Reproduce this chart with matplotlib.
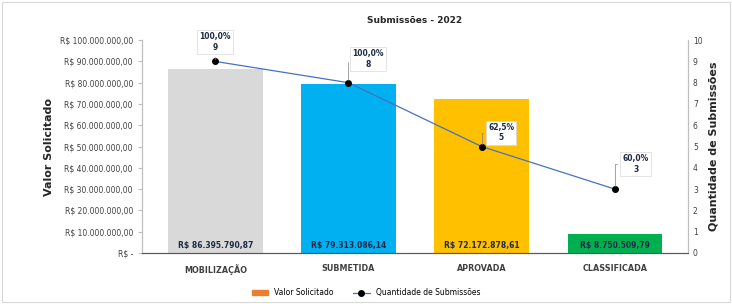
import numpy as np
import matplotlib.pyplot as plt
from matplotlib.lines import Line2D
from matplotlib.patches import Patch

# dados
etapas = ['MOBILIZAÇÃO', 'SUBMETIDA', 'APROVADA', 'CLASSIFICADA']
valor_solicitado = [86395790.87, 79313086.14, 72172878.61, 8750509.79]
valor_rotulos = ['R$ 86.395.790,87', 'R$ 79.313.086,14', 'R$ 72.172.878,61', 'R$ 8.750.509,79']
qtd_submissoes = [9, 8, 5, 3]
pct_rotulos = ['100,0%', '100,0%', '62,5%', '60,0%']
cores = ['#D9D9D9', '#00B0F0', '#FFC000', '#00B050']

yticks_valor = np.arange(0, 100000001, 10000000)

def fmt_real(v):
    if v == 0:
        return 'R$ -'
    s = '{:,.2f}'.format(v).replace(',', 'X').replace('.', ',').replace('X', '.')
    return 'R$ ' + s

fig = plt.figure(figsize=(7.32, 3.04), dpi=100)
ax = fig.add_axes([0.194, 0.168, 0.746, 0.70])
ax2 = ax.twinx()

x = np.arange(len(etapas))
ax.bar(x, valor_solicitado, width=0.71, color=cores, zorder=2)
for xi, lbl in zip(x, valor_rotulos):
    ax.text(xi, 1200000, lbl, ha='center', va='bottom', fontsize=5.5,
            fontweight='bold', color='#1F2A44', zorder=3)

ax.set_ylim(0, 100000000)
ax.set_yticks(yticks_valor)
ax.set_yticklabels([fmt_real(v) for v in yticks_valor], fontsize=5.5, color='#404040')
ax.set_xlim(-0.55, 3.55)
ax.set_xticks(x)
ax.set_xticklabels(etapas, fontsize=5.8, fontweight='bold', color='#404040')
ax.tick_params(axis='x', length=0, pad=8)
ax.tick_params(axis='y', length=3, color='#BFBFBF')
ax.set_ylabel('Valor Solicitado', fontsize=8, fontweight='bold', color='#262626')

ax2.plot(x, qtd_submissoes, color='#4472C4', lw=0.9, marker='o', ms=4,
         mfc='black', mec='black', zorder=4)
ax2.set_ylim(0, 10)
ax2.set_yticks(range(0, 11))
ax2.tick_params(axis='y', labelsize=5.5, labelcolor='#404040', length=0)
ax2.set_ylabel('Quantidade de Submissões', fontsize=8, fontweight='bold', color='#262626')

offsets = [(0, 14), (14, 17), (14, 10), (15, 18)]
for xi, q, p, off in zip(x, qtd_submissoes, pct_rotulos, offsets):
    ax2.annotate('{}\n{}'.format(p, q), (xi, q), xytext=off, textcoords='offset points',
                 ha='center', va='center', fontsize=5.5, fontweight='bold', color='#1F2A44',
                 bbox=dict(boxstyle='square,pad=0.3', fc='white', ec='#D9D9D9', lw=0.5),
                 arrowprops=dict(arrowstyle='-', color='#7F7F7F', lw=0.5,
                                 connectionstyle='angle,angleA=0,angleB=90'),
                 zorder=5)

for a in (ax, ax2):
    a.spines['top'].set_visible(False)
    a.spines['left'].set_color('#BFBFBF')
    a.spines['right'].set_color('#BFBFBF')
    a.spines['bottom'].set_color('#595959')

ax.set_title('Submissões - 2022', fontsize=6.5, fontweight='bold', color='#262626', pad=12)

handles = [Patch(color='#ED7D31', label='Valor Solicitado'),
           Line2D([], [], color='#4472C4', marker='o', mfc='black', mec='black', ms=4,
                  lw=0.9, label='Quantidade de Submissões')]
fig.legend(handles=handles, loc='lower center', bbox_to_anchor=(0.5, 0.0), ncol=2,
           frameon=False, fontsize=5.5, handlelength=2.2, handleheight=0.5,
           columnspacing=2.5)

border = plt.Rectangle((0.003, 0.005), 0.994, 0.99, transform=fig.transFigure,
                       fill=False, ec='#D9D9D9', lw=0.8)
fig.patches.append(border)

plt.savefig('out.png', dpi=100)
